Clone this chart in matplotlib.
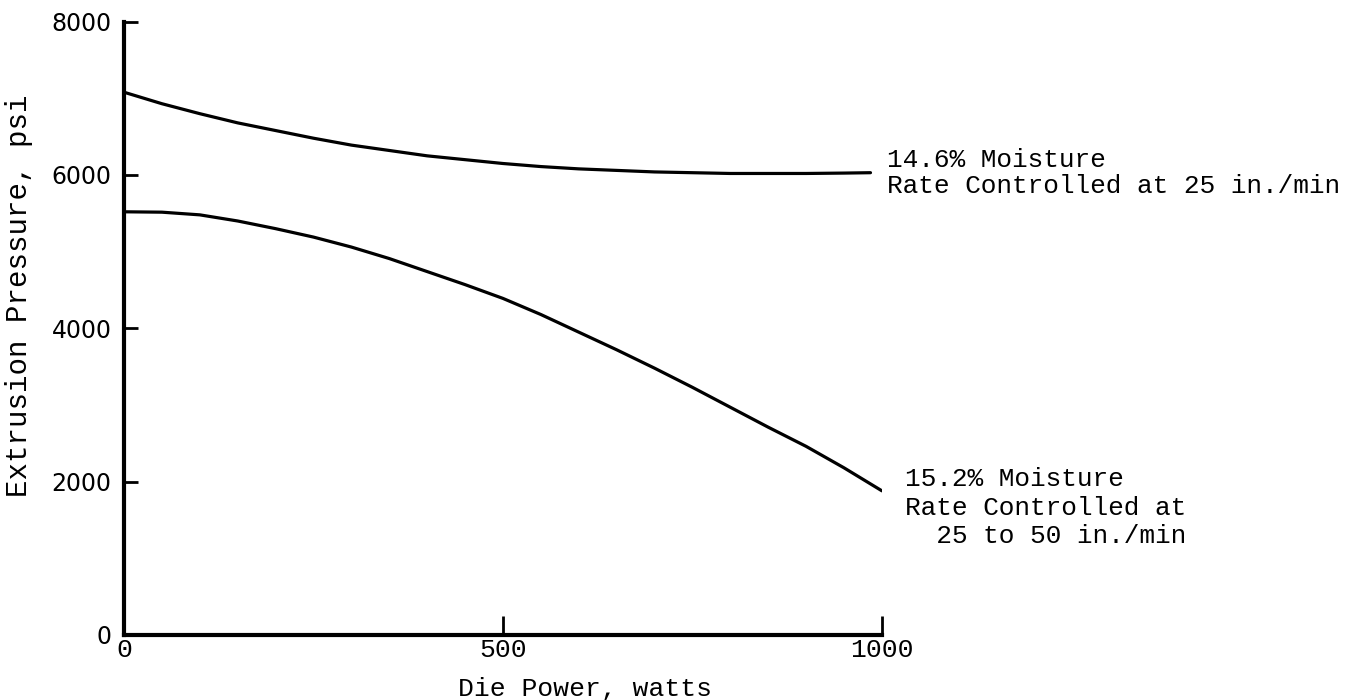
import numpy as np
import matplotlib
matplotlib.use('Agg')
import matplotlib.pyplot as plt

# Extrusion pressure vs die power
power_146 = [0, 50, 100, 150, 200, 250, 300, 350, 400, 450, 500,
             550, 600, 650, 700, 750, 800, 850, 900, 950, 985]
press_146 = [7080, 6930, 6800, 6680, 6580, 6480, 6390, 6320, 6250, 6200, 6150,
             6110, 6080, 6060, 6040, 6030, 6020, 6020, 6020, 6025, 6030]

power_152 = [0, 50, 100, 150, 200, 250, 300, 350, 400, 450, 500,
             550, 600, 650, 700, 750, 800, 850, 900, 950, 1000]
press_152 = [5520, 5515, 5480, 5400, 5300, 5190, 5060, 4910, 4740, 4570, 4390,
             4180, 3950, 3720, 3480, 3230, 2970, 2710, 2460, 2180, 1880]

x_ticks = [0, 500, 1000]
y_ticks = [0, 2000, 4000, 6000, 8000]

label_146 = '14.6% Moisture\nRate Controlled at 25 in./min'
label_152 = '15.2% Moisture\nRate Controlled at\n  25 to 50 in./min'

mono = 'Liberation Mono'

fig = plt.figure(figsize=(13.63, 7.0), dpi=100)
ax = fig.add_axes([0.091, 0.093, 0.556, 0.876])

ax.plot(power_146, press_146, color='black', lw=2.3, solid_capstyle='round')
ax.plot(power_152, press_152, color='black', lw=2.3, solid_capstyle='round')

ax.set_xlim(0, 1000)
ax.set_ylim(0, 8000)
ax.spines['top'].set_visible(False)
ax.spines['right'].set_visible(False)
ax.spines['left'].set_linewidth(3)
ax.spines['bottom'].set_linewidth(3)

ax.set_xticks(x_ticks)
ax.set_xticklabels([str(v) for v in x_ticks], family=mono, fontsize=19)
ax.set_yticks(y_ticks)
ax.set_yticklabels([str(v) for v in y_ticks], family='DejaVu Sans', fontsize=17)
ax.tick_params(axis='x', direction='in', length=14, width=2, pad=2)
ax.tick_params(axis='y', direction='in', length=10, width=2, pad=9)

ax.text(1007, 6025, label_146, family=mono, fontsize=18.8, ha='left',
        va='center', linespacing=1.1, clip_on=False)
ax.text(1030, 1660, label_152, family=mono, fontsize=18.8, ha='left',
        va='center', linespacing=1.25, clip_on=False)

fig.text(0.429, 0.016, 'Die Power, watts', family=mono, fontsize=19,
         ha='center', va='center')
fig.text(0.014, 1 - 296 / 700, 'Extrusion Pressure, psi', family=mono,
         fontsize=21, rotation=90, ha='center', va='center')

fig.savefig('out.png', dpi=100)
